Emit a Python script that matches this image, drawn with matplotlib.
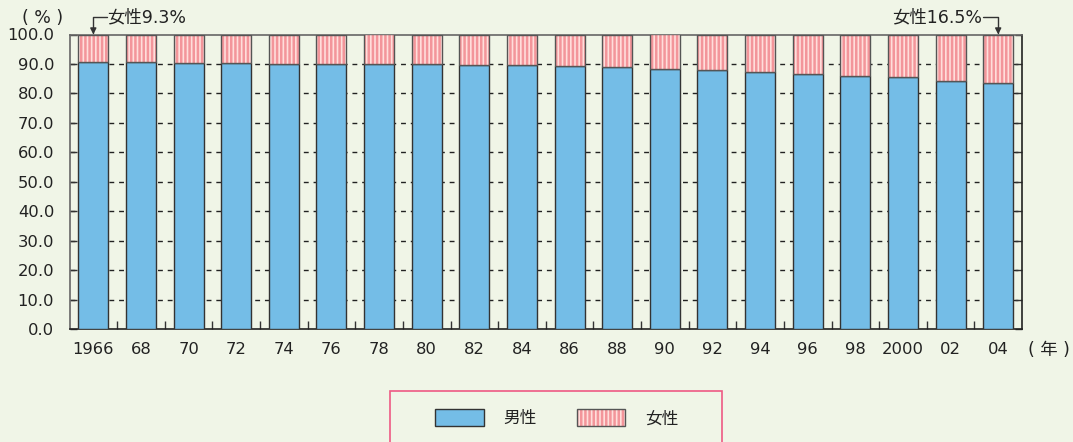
import matplotlib
matplotlib.use("Agg")
import matplotlib.pyplot as plt
from matplotlib.patches import Patch, Rectangle
from matplotlib.legend_handler import HandlerTuple
import numpy as np

plt.rcParams['font.family'] = ['DejaVu Sans', 'Noto Sans CJK JP']
plt.rcParams['hatch.linewidth'] = 1.8

years = ["1966", "68", "70", "72", "74", "76", "78", "80", "82", "84",
         "86", "88", "90", "92", "94", "96", "98", "2000", "02", "04"]
male = [90.7, 90.6, 90.3, 90.2, 90.1, 90.1, 90.0, 89.9, 89.6, 89.5,
        89.3, 89.0, 88.4, 87.9, 87.2, 86.5, 85.8, 85.5, 84.2, 83.5]
female = [round(100 - m, 1) for m in male]
yticks = [0, 10, 20, 30, 40, 50, 60, 70, 80, 90, 100]

bg = '#F0F5E7'
blue = '#74BDE7'
pink_bg = '#FFDEDB'
pink_stripe = '#F3959A'
edge = '#333333'
txt = '#222222'
fs = 11.8

W, H = 1073, 442
fig = plt.figure(figsize=(W / 100, H / 100), dpi=100, facecolor=bg)
ax = fig.add_axes([69.5 / W, 1 - 329 / H, (1022 - 69.5) / W, (329 - 34.5) / H])
ax.set_facecolor(bg)

x = np.arange(len(years))
bw = 0.63
ax.bar(x, male, width=bw, color=blue, edgecolor=edge, linewidth=1.0, zorder=3)
ax.bar(x, female, width=bw, bottom=male, color=pink_bg, edgecolor=pink_stripe,
       linewidth=0, hatch='||||', zorder=3)
ax.bar(x, female, width=bw, bottom=male, fill=False, edgecolor='#555555',
       linewidth=1.0, zorder=4)

ax.set_xlim(-0.5, len(years) - 0.5)
ax.set_ylim(0, 100)
ax.set_yticks(yticks)
ax.set_yticklabels([f"{v:.1f}" for v in yticks])
ax.set_xticks(x)
ax.set_xticklabels(years)
ax.set_xticks(x[:-1] + 0.5, minor=True)

for v in yticks[1:-1]:
    ax.axhline(v, color='#222222', linewidth=1.0, dashes=(3.5, 3.5), zorder=1)

ax.tick_params(axis='y', which='major', direction='in', length=5, width=1,
               color='#333333', labelsize=fs, pad=11, right=True, labelcolor=txt)
ax.tick_params(axis='x', which='major', length=0, labelsize=fs, pad=9, labelcolor=txt)
ax.tick_params(axis='x', which='minor', direction='in', length=6, width=1, color='#333333')

for s in ['left', 'top']:
    ax.spines[s].set_color('#666666')
for s in ['bottom', 'right']:
    ax.spines[s].set_color('#222222')
for s in ax.spines.values():
    s.set_linewidth(1.2)

# annotations
afs = 12.5
arrow = dict(arrowstyle='-|>', color='#333333', lw=1, shrinkA=0, shrinkB=0,
             mutation_scale=9, connectionstyle='angle,angleA=0,angleB=90,rad=0')
ax.annotate('', xy=(0, 100), xytext=(0.28, 105.9), arrowprops=arrow,
            annotation_clip=False)
ax.text(0.30, 105.9, f'女性{female[0]}%', ha='left', va='center', fontsize=afs,
        color=txt, clip_on=False)
n = len(years) - 1
ax.annotate('', xy=(n, 100), xytext=(n - 0.32, 105.9), arrowprops=arrow,
            annotation_clip=False)
ax.text(n - 0.34, 105.9, f'女性{female[-1]}%', ha='right', va='center', fontsize=afs,
        color=txt, clip_on=False)

fig.text(43 / W, 1 - 18 / H, '( % )', ha='center', va='center', fontsize=12.5,
         color=txt)
fig.text(1049 / W, 1 - 350 / H, '( 年 )', ha='center', va='center', fontsize=12.5,
         color=txt)

# legend
fig.patches.append(Rectangle((390 / W, -0.05), (722 - 390) / W, 0.05 + (442 - 391) / H,
                             transform=fig.transFigure, facecolor=bg,
                             edgecolor='#EE5A84', linewidth=1.2))
h_male = Patch(facecolor=blue, edgecolor=edge, linewidth=1.0)
h_f1 = Patch(facecolor=pink_bg, edgecolor=pink_stripe, linewidth=0, hatch='||||')
h_f2 = Patch(fill=False, edgecolor='#555555', linewidth=1.0)
fig.legend([h_male, (h_f1, h_f2)], ['男性', '女性'],
           handler_map={tuple: HandlerTuple(ndivide=1, pad=0)},
           loc='center', bbox_to_anchor=(557 / W, 1 - 418 / H), ncol=2,
           frameon=False, fontsize=12, handlelength=2.9, handleheight=1.25,
           handletextpad=1.2, columnspacing=2.4, labelcolor=txt)

fig.savefig('out.png', dpi=100, facecolor=bg)
